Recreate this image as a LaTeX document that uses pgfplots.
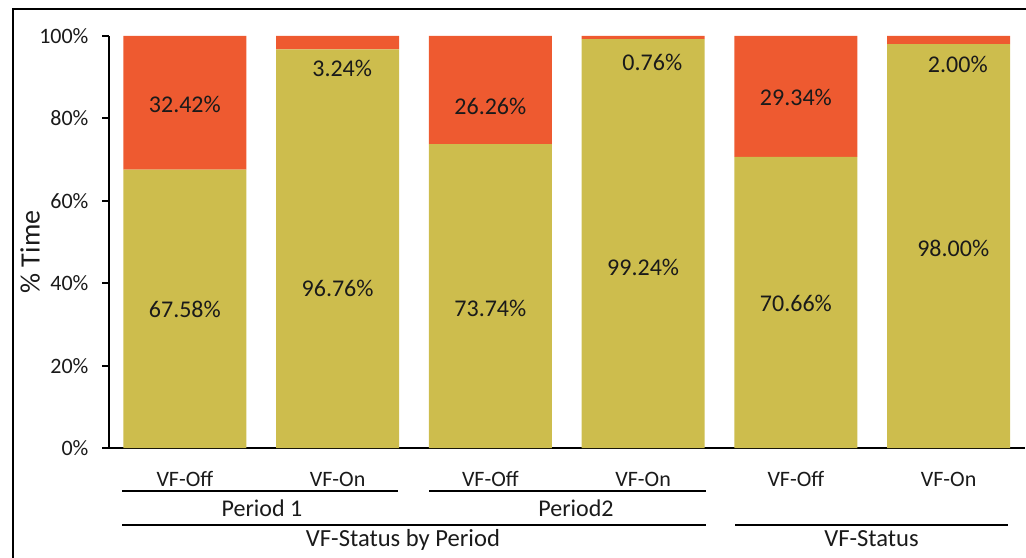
\documentclass[border=0pt]{standalone}
\usepackage{pgfplots}
\pgfplotsset{compat=1.18}
\usepackage{fontspec}
\setmainfont{Carlito}
\definecolor{olivebar}{HTML}{CDBD4D}
\definecolor{orngbar}{HTML}{EE5A30}
\definecolor{txt}{HTML}{1A1A1A}
\pgfplotsset{myframe/.style={at={(54.25pt,54.5pt)}, anchor=south west,
  scale only axis, width=458.25pt, height=206pt,
  xmin=-0.5, xmax=5.5, ymin=0, ymax=100, clip=false}}
\begin{document}
\begin{tikzpicture}
\useasboundingbox (0,0) rectangle (513pt,278.5pt);
\begin{axis}[
  myframe,
  ybar stacked, bar width=61.5pt,
  axis x line*=bottom, axis y line*=left,
  xtick={0,1,2,3,4,5},
  xticklabels={VF-Off,VF-On,VF-Off,VF-On,VF-Off,VF-On},
  xtick style={draw=none},
  xticklabel style={anchor=base, yshift=-16pt, font=\fontsize{11}{13}\selectfont, text=txt},
  ytick={0,20,40,60,80,100},
  yticklabels={0\%,20\%,40\%,60\%,80\%,100\%},
  ytick style={black, line width=1pt},
  tick align=outside, major tick length=3pt,
  yticklabel style={font=\fontsize{11}{13}\selectfont, xshift=-3.5pt, text=txt},
  axis line style={line width=1pt, black},
]
\addplot[fill=olivebar, draw=none] coordinates {(0,67.58) (1,96.76) (2,73.74) (3,99.24) (4,70.66) (5,98.00)};
\addplot[fill=orngbar, draw=none] coordinates {(0,32.42) (1,3.24) (2,26.26) (3,0.76) (4,29.34) (5,2.00)};
\end{axis}
\begin{axis}[myframe, hide axis]
\addplot[draw=none, mark=none, point meta=explicit symbolic,
  nodes near coords={\pgfplotspointmeta\%},
  every node near coord/.append style={anchor=center, inner sep=0pt, font=\fontsize{12}{14}\selectfont, text=txt}]
  table[meta=lab] {
x y lab
0 83.5 32.42
0 33.7 67.58
1.03 92.2 3.24
1 38.8 96.76
2 83.0 26.26
2 34.0 73.74
3.06 93.7 0.76
3 43.9 99.24
4 85.2 29.34
4 35.0 70.66
5.06 93.0 2.00
5.03 48.5 98.00
};
\end{axis}
% chart frame
\draw[line width=1pt, black] (6.5pt,-5pt) -- (6.5pt,274pt) -- (520pt,274pt);
% y label
\node[rotate=90, font=\fontsize{14}{16}\selectfont, text=txt] at (15pt,152.5pt) {\% Time};
% group lines
\draw[line width=0.9pt, black] (61pt,33pt) -- (199pt,33pt);
\draw[line width=0.9pt, black] (214.5pt,33pt) -- (353pt,33pt);
\draw[line width=0.9pt, black] (61pt,16pt) -- (353pt,16pt);
\draw[line width=0.9pt, black] (367.5pt,16pt) -- (504pt,16pt);
% group labels
\node[anchor=base, font=\fontsize{12}{14}\selectfont, text=txt] at (131pt,20.5pt) {Period 1};
\node[anchor=base, font=\fontsize{12}{14}\selectfont, text=txt] at (288pt,20.5pt) {Period2};
\node[anchor=base, font=\fontsize{12.3}{14}\selectfont, text=txt] at (201.5pt,5.5pt) {VF-Status by Period};
\node[anchor=base, font=\fontsize{12.3}{14}\selectfont, text=txt] at (435.75pt,5.5pt) {VF-Status};
\end{tikzpicture}
\end{document}
